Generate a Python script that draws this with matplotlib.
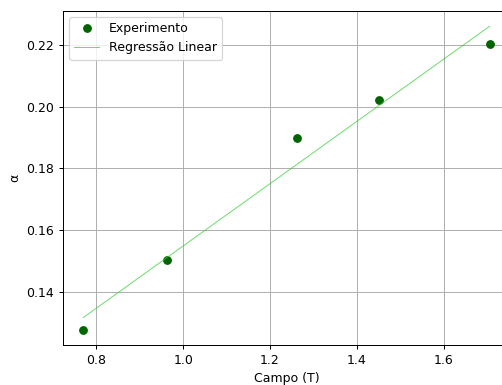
import numpy as np
import matplotlib
matplotlib.use("Agg")
import matplotlib.pyplot as plt

campo = [0.770, 0.962, 1.262, 1.451, 1.706]
alpha = [0.1277, 0.1503, 0.1898, 0.2023, 0.2203]

DPI = 90
fig = plt.figure(figsize=(502/DPI, 385/DPI), dpi=DPI)
ax = fig.add_axes([63/502, 40/385, 447/502, 334/385])

ax.plot(campo, alpha, 'o', color='darkgreen', label='Experimento')
coef = np.polyfit(campo, alpha, 1)
xs = np.array([min(campo), max(campo)])
ax.plot(xs, np.polyval(coef, xs), color='limegreen', lw=0.8, alpha=0.7, label='Regressão Linear')

ax.set_xlabel('Campo (T)')
ax.set_ylabel('α')
ax.grid(True)
ax.legend(loc='upper left')
fig.savefig('out.png', dpi=DPI)
